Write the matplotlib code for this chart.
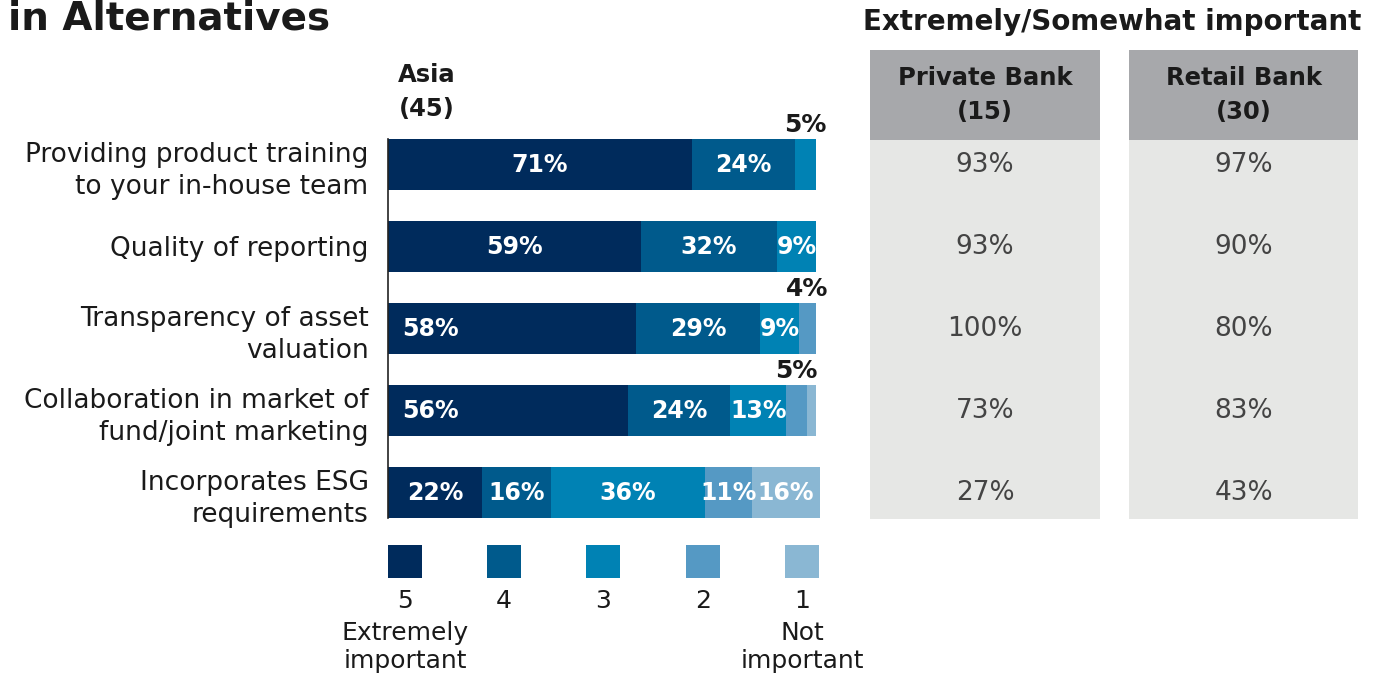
import matplotlib.pyplot as plt
from matplotlib.patches import Rectangle

plt.rcParams['font.family'] = ['DejaVu Sans']

# data
categories = [
    "Providing product training\nto your in-house team",
    "Quality of reporting",
    "Transparency of asset\nvaluation",
    "Collaboration in market of\nfund/joint marketing",
    "Incorporates ESG\nrequirements",
]
# shares per answer level, 5 (extremely important) ... 1 (not important)
level5 = [71, 59, 58, 56, 22]
level4 = [24, 32, 29, 24, 16]
level3 = [5, 9, 9, 13, 36]
level2 = [0, 0, 4, 5, 11]
level1 = [0, 0, 0, 2, 16]
levels = [level5, level4, level3, level2, level1]
level_names = ["5", "4", "3", "2", "1"]
level_desc = ["Extremely\nimportant", "", "", "", "Not\nimportant"]

private_bank = [93, 93, 100, 73, 27]
retail_bank = [97, 90, 80, 83, 43]
bank_headers = ["Private Bank\n(15)", "Retail Bank\n(30)"]

colors = ['#002b5c', '#005a8c', '#0082b4', '#5599c4', '#8ab7d3']

W, H = 1386, 680
fig = plt.figure(figsize=(W / 100, H / 100), dpi=100)

def fx(px):
    return px / W

def fy(py):
    return 1 - py / H

# bar axes, rows 82 px apart, first row centred at y=164.5 px
top_px, bot_px = 164.5 - 41, 164.5 + 4 * 82 + 41
ax = fig.add_axes([fx(388), fy(bot_px), 428 / W, (bot_px - top_px) / H])
ax.set_xlim(0, 100)
ax.set_ylim(4.5, -0.5)

rows = list(range(len(categories)))
left = [0] * len(categories)
for k, vals in enumerate(levels):
    ax.barh(rows, vals, left=left, height=0.63, color=colors[k], clip_on=False)
    for i, v in enumerate(vals):
        if v >= 4:
            cx = left[i] + v / 2
            if v < 7 and not (i == 1):
                ax.text(cx, i - 0.33, f"{v}%", ha='center', va='bottom',
                        fontsize=18, fontweight='bold', color='#1a1a1a')
            elif k == 0 and i in (2, 3):
                ax.text(left[i] + 3.3, i, f"{v}%", ha='left', va='center',
                        fontsize=17, fontweight='bold', color='white')
            else:
                ax.text(cx, i, f"{v}%", ha='center', va='center',
                        fontsize=17, fontweight='bold', color='white')
    left = [a + b for a, b in zip(left, vals)]

ax.set_yticks(rows)
ax.set_yticklabels(categories, fontsize=19, color='#1a1a1a', linespacing=1.3)
ax.tick_params(axis='y', length=0, pad=14)
ax.set_xticks([])
for s in ['top', 'right', 'bottom']:
    ax.spines[s].set_visible(False)
ax.spines['left'].set_bounds(-0.315, 4.315)
ax.spines['left'].set_linewidth(1.2)
ax.spines['left'].set_color('#222222')

# table axes, x in pixels, y in rows
tax = fig.add_axes([0, fy(bot_px), 1, (bot_px - top_px) / H])
tax.set_xlim(0, W)
tax.set_ylim(4.5, -0.5)
tax.axis('off')
cols = [(870, 1100), (1129, 1358)]
hdr_top, hdr_bot, body_bot = (50 - 164.5) / 82, (140 - 164.5) / 82, (519 - 164.5) / 82
for (x0, x1), hdr, vals in zip(cols, bank_headers, [private_bank, retail_bank]):
    tax.add_patch(Rectangle((x0, hdr_bot), x1 - x0, body_bot - hdr_bot,
                            color='#e6e7e5', clip_on=False, lw=0))
    tax.add_patch(Rectangle((x0, hdr_top), x1 - x0, hdr_bot - hdr_top,
                            color='#a7a8ab', clip_on=False, lw=0))
    tax.text((x0 + x1) / 2, (hdr_top + hdr_bot) / 2, hdr, ha='center', va='center',
             fontsize=17.5, fontweight='bold', color='#1a1a1a', linespacing=1.5)
    for i, v in enumerate(vals):
        tax.text((x0 + x1) / 2, i, f"{v}%", ha='center', va='center',
                 fontsize=19, color='#444444')

# titles and legend in figure pixel coords
fig.text(fx(8), fy(30), "in Alternatives", fontsize=28, fontweight='bold',
         color='#1a1a1a', va='baseline')
fig.text(fx(1112), fy(22), "Extremely/Somewhat important", fontsize=20,
         fontweight='bold', color='#1a1a1a', ha='center', va='center')
fig.text(fx(427), fy(92), "Asia\n(45)", fontsize=17.5, fontweight='bold',
         color='#1a1a1a', ha='center', va='center', linespacing=1.5)

leg_x = [405, 504, 603, 703, 802]
for c, x, name, desc in zip(colors, leg_x, level_names, level_desc):
    fig.patches.append(Rectangle((fx(x - 17), fy(578)), 34 / W, 33 / H,
                                 transform=fig.transFigure, color=c, lw=0))
    fig.text(fx(x), fy(601), name, fontsize=18, color='#1a1a1a',
             ha='center', va='center')
    if desc:
        fig.text(fx(x), fy(647), desc, fontsize=18, color='#1a1a1a',
                 ha='center', va='center', linespacing=1.2)

fig.savefig('out.png', dpi=100)
